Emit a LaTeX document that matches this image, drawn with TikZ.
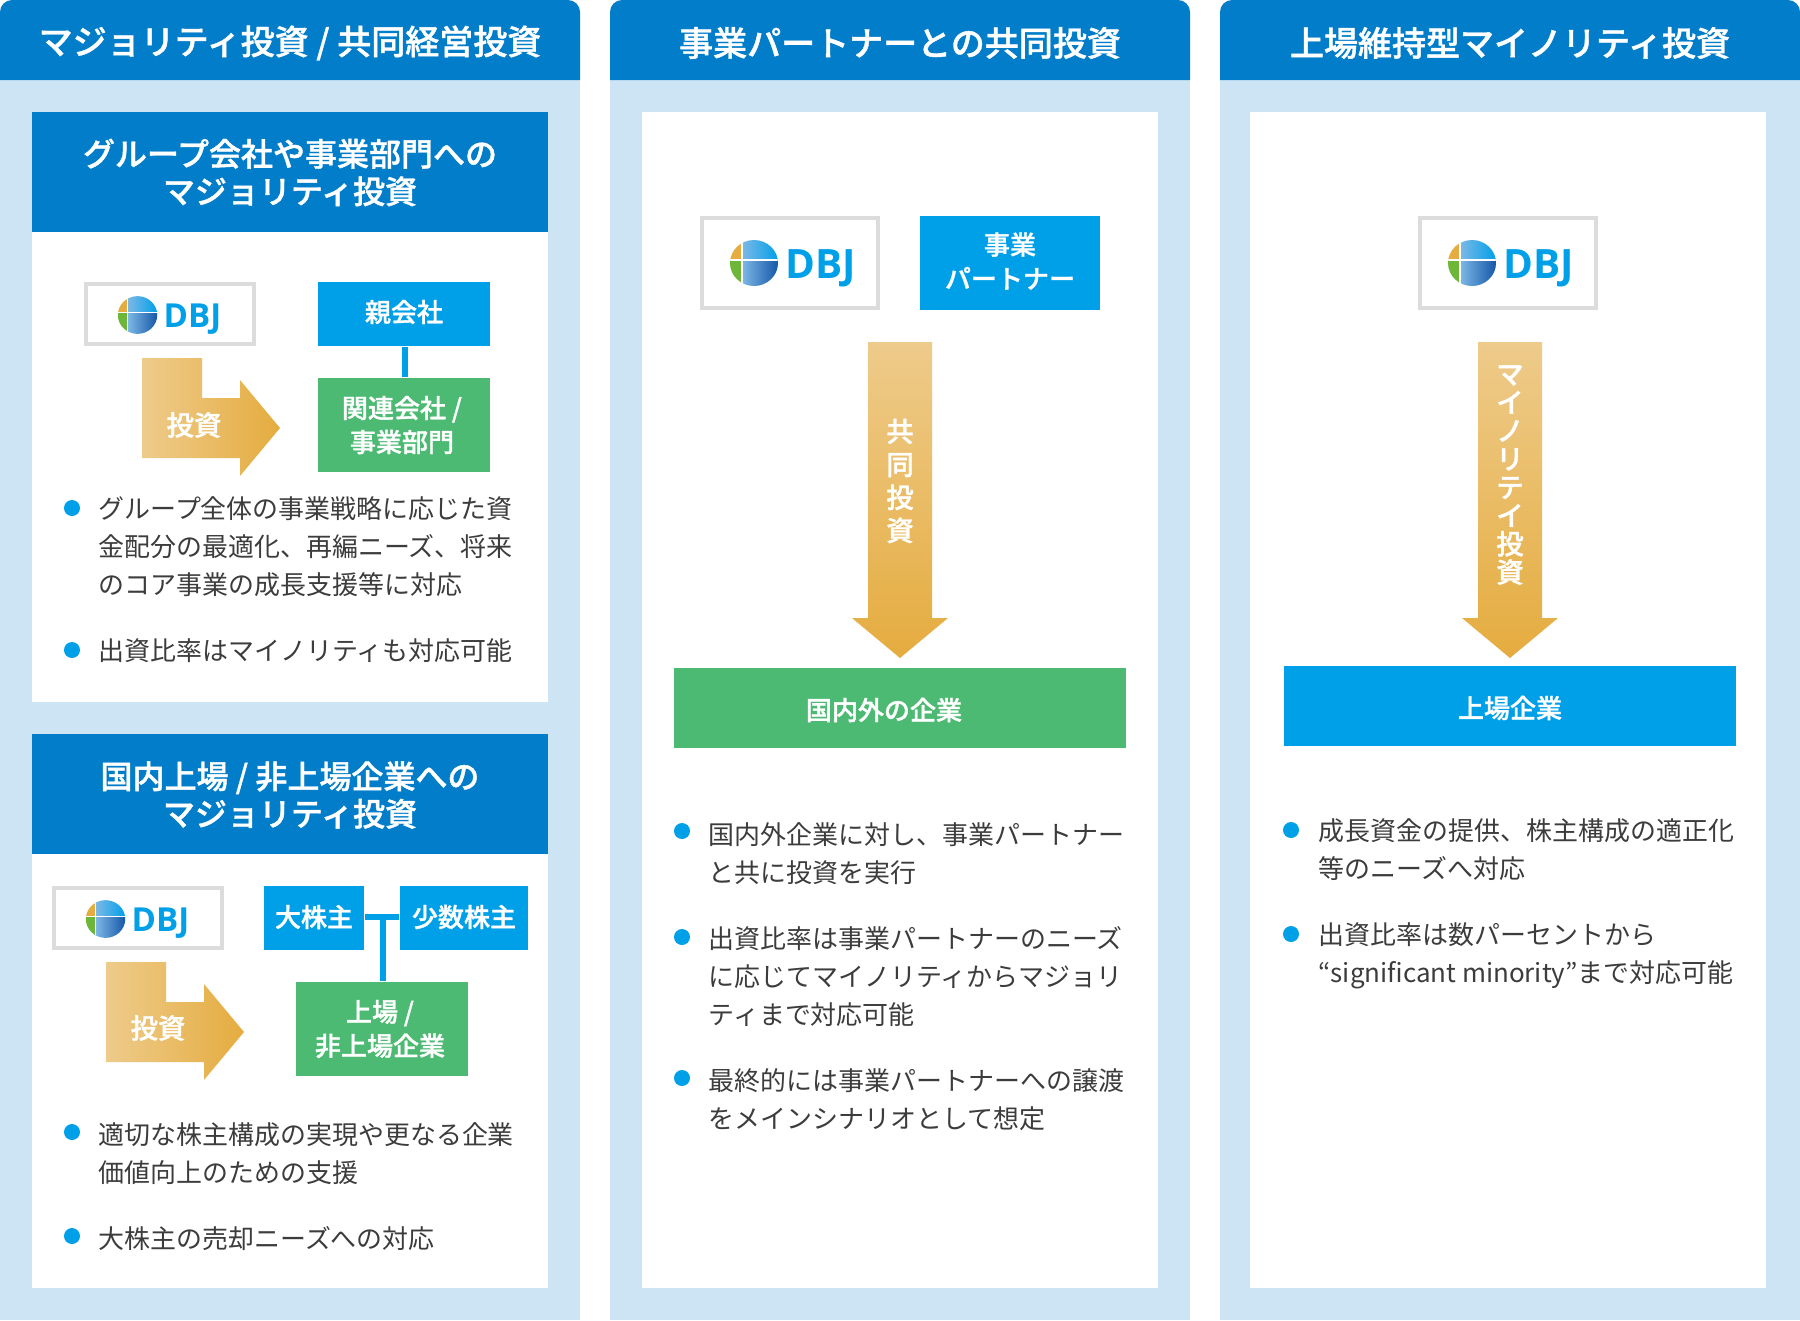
\documentclass[tikz,border=0pt]{standalone}
\usepackage{fontspec}
\setmainfont[BoldFont={Noto Sans CJK JP Medium},BoldFeatures={FakeBold=1.2}]{Noto Sans CJK JP}
\newfontfamily\logofont{Open Sans}

\definecolor{headblue}{HTML}{027DC9}
\definecolor{paleblue}{HTML}{CCE4F4}
\definecolor{boxblue}{HTML}{00A0E9}
\definecolor{boxgreen}{HTML}{4CBA72}
\definecolor{logogray}{HTML}{DCDCDC}
\definecolor{bodygray}{HTML}{3C3C3C}
\definecolor{arrowlight}{HTML}{EECB8B}
\definecolor{arrowdark}{HTML}{E5AC3F}
\definecolor{globegreen}{HTML}{6CB737}
\definecolor{globelight}{HTML}{7DB8E6}
\definecolor{globedark}{HTML}{1557A8}

\tikzset{
  headtext/.style={text=white,font=\fontsize{9.67pt}{12pt}\selectfont\bfseries,inner sep=0pt},
  subtext/.style={text=white,align=center,font=\fontsize{9.1pt}{10.67pt}\selectfont\bfseries,inner sep=0pt},
  boxtext/.style={text=white,align=center,font=\fontsize{7.4pt}{9.67pt}\selectfont\bfseries,inner sep=0pt},
  arrowtext/.style={text=white,align=center,inner sep=0pt,font=\fontsize{7.8pt}{#1}\selectfont\bfseries},
  arrowtext/.default=9.38pt,
  bodytext/.style={text=bodygray,anchor=north west,align=left,inner sep=0pt,font=\fontsize{7.38pt}{10.81pt}\selectfont},
  logobox/.style={draw=logogray,line width=0.04cm,fill=white,inner sep=0pt},
  bluebox/.style={fill=boxblue,inner sep=0pt},
  greenbox/.style={fill=boxgreen,inner sep=0pt},
  bullet/.style={circle,fill=boxblue,inner sep=0pt,minimum size=0.16cm},
  tieline/.style={draw=boxblue,line width=0.06cm}
}

% globe and letters, #1 = origin of the logo, #2 = size, #3 = letter size
\newcommand{\dbjlogo}[3]{
  \begin{scope}[shift={(#1)},scale=#2]
    \begin{scope}
      \clip (-3,0) ellipse (24 and 23);
      \shade[left color=globelight,right color=boxblue] (-15,-23) rectangle (21,-3);
      \shade[left color=globelight,right color=globedark] (-15,-3) rectangle (21,23);
      \fill[arrowdark] (-27,-23) rectangle (-15,-3);
      \fill[globegreen] (-27,-3) rectangle (-15,23);
      \draw[white,line width=0.015cm] (-27,-3) -- (21,-3);
      \draw[white,line width=0.015cm] (-15,-23) -- (-15,23);
    \end{scope}
    \node[text=boxblue,anchor=base west,inner sep=0pt,
      font=\logofont\fontsize{#3}{12pt}\selectfont\bfseries] at (28,15) {DBJ};
  \end{scope}
}

\newcommand{\rightarrowshape}[1]{
  \shade[shift={(#1)},left color=arrowlight,right color=arrowdark]
    (0,0) -- (60,0) -- (60,40) -- (98,40) -- (98,22) -- (138,70) -- (98,118) -- (98,100) -- (0,100) -- cycle;
}
\newcommand{\downarrowshape}[1]{
  \shade[shift={(#1)},top color=arrowlight,bottom color=arrowdark]
    (16,0) -- (80,0) -- (80,276) -- (96,276) -- (48,316) -- (0,276) -- (16,276) -- cycle;
}

\begin{document}
\begin{tikzpicture}[x=0.01cm,y=-0.01cm]
  \useasboundingbox (0,0) rectangle (1800,1320);

  % first column
  \fill[paleblue] (0,40) rectangle (580,1320);
  \fill[headblue] (0,80) {[rounded corners=0.12cm] -- (0,0) -- (580,0)} -- (580,80) -- cycle;
  \node[headtext] (head1) at (290,43) {マジョリティ投資 / 共同経営投資};

  \fill[white] (32,112) rectangle (548,702);
  \fill[headblue] (32,112) rectangle (548,232);
  \node[subtext] (sub1) at (290,172.5) {グループ会社や事業部門への\\マジョリティ投資};

  \node[logobox,minimum width=1.68cm,minimum height=0.60cm] (logo1) at (170,314) {};
  \dbjlogo{140,315}{0.82}{9.4pt}
  \node[bluebox,minimum width=1.72cm,minimum height=0.64cm] (parent) at (404,314) {};
  \node[boxtext] (parenttext) at (404,312) {親会社};
  \node[greenbox,minimum width=1.72cm,minimum height=0.94cm] (related) at (404,425) {};
  \node[boxtext] (relatedtext) at (402,425) {関連会社 /\\事業部門};
  \draw[tieline] ([xshift=0.01cm]parent.south) -- ([xshift=0.01cm]related.north);
  \rightarrowshape{142,358}
  \node[arrowtext] (invest1) at (194,425) {投資};

  \node[bullet] (b1) at (72,508) {};
  \node[bodytext] (t1) at (98,496) {グループ全体の事業戦略に応じた資\\金配分の最適化、再編ニーズ、将来\\のコア事業の成長支援等に対応};
  \node[bullet] (b2) at (72,650) {};
  \node[bodytext] (t2) at (98,638) {出資比率はマイノリティも対応可能};

  \fill[white] (32,734) rectangle (548,1288);
  \fill[headblue] (32,734) rectangle (548,854);
  \node[subtext] (sub2) at (290,795) {国内上場 / 非上場企業への\\マジョリティ投資};

  \node[logobox,minimum width=1.68cm,minimum height=0.60cm] (logo2) at (138,918) {};
  \dbjlogo{108,919}{0.82}{9.4pt}
  \node[bluebox,minimum width=1.00cm,minimum height=0.64cm] (major) at (314,918) {};
  \node[boxtext] (majortext) at (314,917) {大株主};
  \node[bluebox,minimum width=1.28cm,minimum height=0.64cm] (minor) at (464,918) {};
  \node[boxtext] (minortext) at (464,917) {少数株主};
  \node[greenbox,minimum width=1.72cm,minimum height=0.94cm] (listed) at (382,1029) {};
  \node[boxtext] (listedtext) at (380,1029) {上場 /\\非上場企業};
  \coordinate (junction) at (383,917);
  \draw[tieline] (major.east |- junction) -- (minor.west |- junction);
  \draw[tieline] (listed.north -| junction) -- (junction);
  \rightarrowshape{106,962}
  \node[arrowtext] (invest2) at (158,1028) {投資};

  \node[bullet] (b3) at (72,1132) {};
  \node[bodytext] (t3) at (98,1122) {適切な株主構成の実現や更なる企業\\価値向上のための支援};
  \node[bullet] (b4) at (72,1236) {};
  \node[bodytext] (t4) at (98,1226) {大株主の売却ニーズへの対応};

  % second column
  \fill[paleblue] (610,40) rectangle (1190,1320);
  \fill[headblue] (610,80) {[rounded corners=0.12cm] -- (610,0) -- (1190,0)} -- (1190,80) -- cycle;
  \node[headtext] (head2) at (900,43) {事業パートナーとの共同投資};
  \fill[white] (642,112) rectangle (1158,1288);

  \node[logobox,minimum width=1.76cm,minimum height=0.90cm] (logo3) at (790,263) {};
  \dbjlogo{757,263}{1}{11.5pt}
  \node[bluebox,minimum width=1.80cm,minimum height=0.94cm] (partner) at (1010,263) {};
  \node[boxtext] (partnertext) at (1010,261) {事業\\パートナー};
  \downarrowshape{852,342}
  \node[arrowtext] (joint) at (900,481) {共\\同\\投\\資};
  \node[greenbox,minimum width=4.52cm,minimum height=0.80cm] (firms) at (900,708) {};
  \node[boxtext] (firmstext) at (884,710) {国内外の企業};

  \node[bullet] (b5) at (682,831) {};
  \node[bodytext] (t5) at (708,822) {国内外企業に対し、事業パートナー\\と共に投資を実行};
  \node[bullet] (b6) at (682,937) {};
  \node[bodytext] (t6) at (708,926) {出資比率は事業パートナーのニーズ\\に応じてマイノリティからマジョリ\\ティまで対応可能};
  \node[bullet] (b7) at (682,1078) {};
  \node[bodytext] (t7) at (708,1068) {最終的には事業パートナーへの譲渡\\をメインシナリオとして想定};

  % third column
  \fill[paleblue] (1220,40) rectangle (1800,1320);
  \fill[headblue] (1220,80) {[rounded corners=0.12cm] -- (1220,0) -- (1800,0)} -- (1800,80) -- cycle;
  \node[headtext] (head3) at (1510,43) {上場維持型マイノリティ投資};
  \fill[white] (1250,112) rectangle (1766,1288);

  \node[logobox,minimum width=1.76cm,minimum height=0.90cm] (logo4) at (1508,263) {};
  \dbjlogo{1475,263}{1}{11.5pt}
  \downarrowshape{1462,342}
  \node[arrowtext=8.05pt] (minority) at (1510,475) {マ\\イ\\ノ\\リ\\テ\\イ\\投\\資};
  \node[bluebox,minimum width=4.52cm,minimum height=0.79cm] (listedfirms) at (1510,706) {};
  \node[boxtext] (listedfirmstext) at (1510,708) {上場企業};

  \node[bullet] (b8) at (1291,830) {};
  \node[bodytext] (t8) at (1318,818) {成長資金の提供、株主構成の適正化\\等のニーズへ対応};
  \node[bullet] (b9) at (1291,934) {};
  \node[bodytext] (t9) at (1318,922) {出資比率は数パーセントから\\“significant minority”まで対応可能};
\end{tikzpicture}
\end{document}
